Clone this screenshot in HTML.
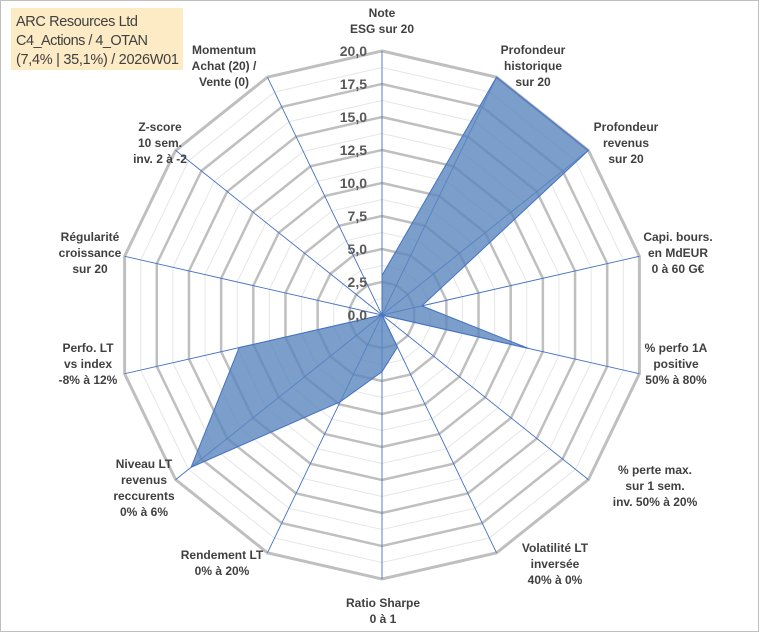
<!DOCTYPE html>
<html><head><meta charset="utf-8"><style>
html,body{margin:0;padding:0;background:#fff;}
svg{display:block;font-family:"Liberation Sans",Arial,sans-serif;}
.lab{font-size:12px;font-weight:bold;fill:#404040;text-anchor:middle;}
.tick{font-size:14px;font-weight:bold;fill:#595959;text-anchor:end;}
</style></head><body>
<svg id="chart" width="760" height="633">
<rect x="0.5" y="0.5" width="758" height="631" fill="#fff" stroke="#bfbfbf"/>
<g id="grid"></g><g id="axes"></g><g id="series"></g><g id="ticks"></g><g id="labels"></g>
<rect x="11" y="8" width="172" height="62" fill="#fdebc6"/>
<text x="16" y="26" font-size="14.5" fill="#404040" textLength="122">ARC Resources Ltd</text>
<text x="16" y="45" font-size="14.5" fill="#404040" textLength="132">C4_Actions / 4_OTAN</text>
<text x="16" y="64" font-size="14.5" fill="#404040" textLength="163">(7,4% | 35,1%) / 2026W01</text>
</svg>
<script>
const categories=[["Note","ESG sur 20"],["Profondeur","historique","sur 20"],["Profondeur","revenus","sur 20"],["Capi. bours.","en MdEUR","0 à 60 G€"],["% perfo 1A","positive","50% à 80%"],["% perte max.","sur 1 sem.","inv. 50% à 20%"],["Volatilité LT","inversée","40% à 0%"],["Ratio Sharpe","0 à 1"],["Rendement LT","0% à 20%"],["Niveau LT","revenus","reccurents","0% à 6%"],["Perfo. LT","vs index","-8% à 12%"],["Régularité","croissance","sur 20"],["Z-score","10 sem.","inv. 2 à -2"],["Momentum","Achat (20) /","Vente (0)"]];
const values=[3.0,20,20,3.1,11.4,0,2.7,4.3,7.3,18.5,11.1,0,0,0];
const tickLabels=["0,0","2,5","5,0","7,5","10,0","12,5","15,0","17,5","20,0"];
const maxVal=20;
const labelPos=[[382,17],[533,54],[626,131],[678,241],[676,352],[655,474],[555,552],[383,607],[222,559],[144,468],[88,352],[90,241],[160,131],[224,54]];
const cx=382,cy=315,R=264,N=categories.length;
const NS="http://www.w3.org/2000/svg";
function ang(i){return 2*Math.PI*i/N;}
function pt(i,v){const r=v/maxVal*R;return [cx+r*Math.sin(ang(i)),cy-r*Math.cos(ang(i))];}
function mk(t,a,p){const e=document.createElementNS(NS,t);for(const k in a)e.setAttribute(k,a[k]);p.appendChild(e);return e;}
const grid=document.getElementById('grid');
for(let k=1;k<=16;k++){const v=k*1.25;const pts=[];for(let i=0;i<N;i++)pts.push(pt(i,v).join(','));
const major=k%2===0;
const e=mk('polygon',{points:pts.join(' '),fill:'none',stroke:major?'#bfbfbf':'#e6e6e6','stroke-width':major?(k===16?3:2.5):1},grid);

}
const axes=document.getElementById('axes');
for(let i=0;i<N;i++){const p=pt(i,maxVal);const e=mk('line',{x1:cx,y1:cy,x2:p[0],y2:p[1],stroke:'#4472c4','stroke-width':0.9},axes);

}
const s=document.getElementById('series');
const poly=mk('polygon',{points:values.map((v,i)=>pt(i,v).join(',')).join(' '),fill:'#5a86be','fill-opacity':0.8,stroke:'#4472c4','stroke-width':1},s);


const tk=document.getElementById('ticks');
tickLabels.forEach((t,k)=>{const e=mk('text',{x:367,y:cy-k*R/8+5,class:'tick'},tk);e.textContent=t;

});
const lb=document.getElementById('labels');
categories.forEach((lines,i)=>{const g=mk('g',{},lb);


lines.forEach((l,j)=>{const e=mk('text',{x:labelPos[i][0],y:labelPos[i][1]+j*16,class:'lab'},g);e.textContent=l;});});
</script>
</body></html>
